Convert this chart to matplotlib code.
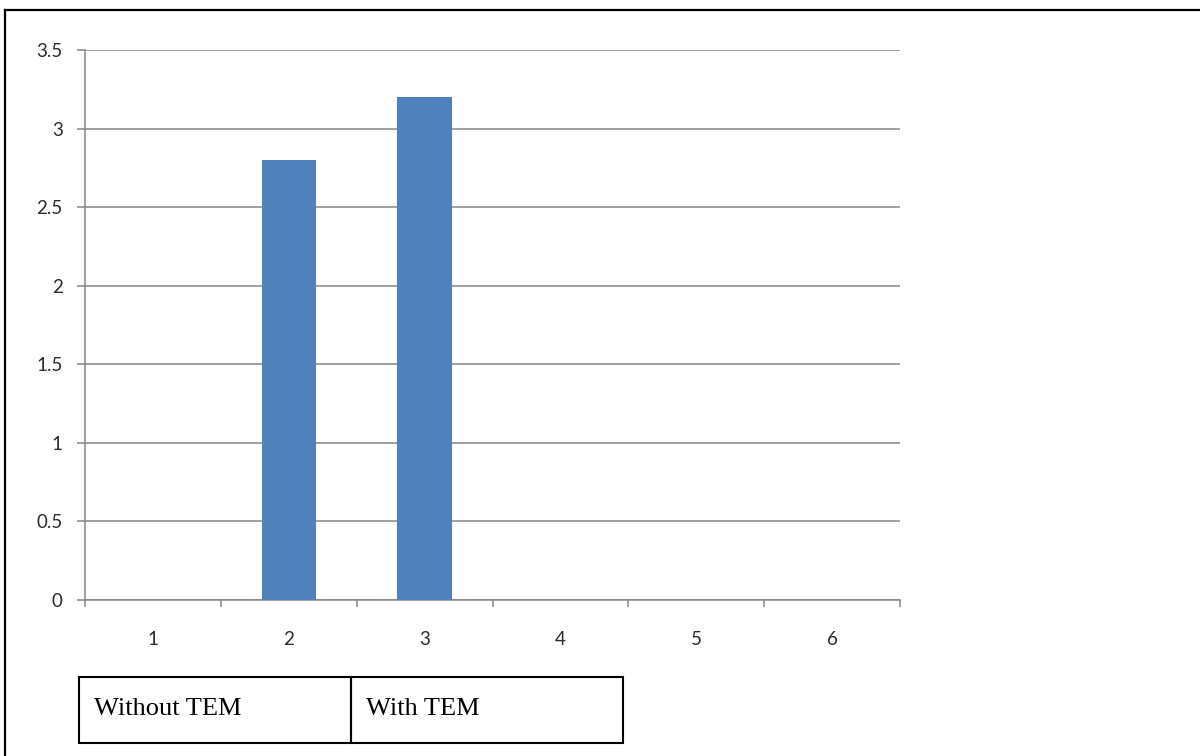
import matplotlib

matplotlib.use("Agg")
import matplotlib.pyplot as plt
import numpy as np
from matplotlib.lines import Line2D
from matplotlib.patches import Rectangle
from matplotlib.ticker import FixedLocator, FuncFormatter

categories = ["1", "2", "3", "4", "5", "6"]
values = [0, 2.8, 3.2, 0, 0, 0]
y_ticks = [0, 0.5, 1, 1.5, 2, 2.5, 3, 3.5]
table_labels = ["Without TEM", "With TEM"]

BAR_COLOR = "#4F81BD"
GRID_COLOR = "#868686"
LABEL_COLOR = "#2b2b2b"
W, H = 1200, 756


def fx(px):
    return px / W


def fy(py):
    return 1 - py / H


fig = plt.figure(figsize=(12, 7.56), dpi=100)
ax = fig.add_axes([fx(85), fy(600), fx(900) - fx(85), fy(50) - fy(600)])

x = np.arange(1, len(categories) + 1)
ax.bar(x, values, width=0.4, color=BAR_COLOR, linewidth=0, zorder=3)

ax.set_xlim(0.5, len(categories) + 0.5)
ax.set_ylim(0, 3.5)

# y axis: gray gridlines, outward ticks
ax.set_yticks(y_ticks)
ax.yaxis.set_major_formatter(FuncFormatter(lambda v, _: f"{v:g}"))
ax.grid(axis="y", color=GRID_COLOR, linewidth=1.1, zorder=0)
ax.tick_params(axis="y", direction="out", length=6, width=1.1,
               color=GRID_COLOR, pad=10, labelsize=13.5, labelcolor=LABEL_COLOR)

# x axis: ticks between categories, labels centred on categories
ax.xaxis.set_major_locator(FixedLocator(np.arange(0.5, len(categories) + 1, 1)))
ax.xaxis.set_major_formatter(FuncFormatter(lambda v, _: ""))
ax.xaxis.set_minor_locator(FixedLocator(x))
ax.set_xticklabels(categories, minor=True)
ax.tick_params(axis="x", which="major", direction="out", length=5, width=1.1,
               color=GRID_COLOR)
ax.tick_params(axis="x", which="minor", length=0, pad=22, labelsize=13.5,
               labelcolor=LABEL_COLOR)

for side in ["top", "right"]:
    ax.spines[side].set_visible(False)
for side in ["left", "bottom"]:
    ax.spines[side].set_color(GRID_COLOR)
    ax.spines[side].set_linewidth(1.1)

for lbl in ax.get_xticklabels(minor=True) + ax.get_yticklabels():
    lbl.set_family(["Lato", "DejaVu Sans"])

# outer frame (top and left edges)
fig.add_artist(Line2D([fx(4.5), 1], [fy(10), fy(10)], color="black", linewidth=1.6))
fig.add_artist(Line2D([fx(4.5), fx(4.5)], [0, fy(10)], color="black", linewidth=1.6))

# legend table below the plot
cell_edges = [79, 351, 623]
top, bottom = 677, 743
for i, label in enumerate(table_labels):
    left, right = cell_edges[i], cell_edges[i + 1]
    fig.add_artist(Rectangle((fx(left), fy(bottom)), fx(right) - fx(left),
                             fy(top) - fy(bottom), fill=False,
                             edgecolor="black", linewidth=1.5))
    fig.text(fx(left + 15), fy((top + bottom) / 2 - 1), label,
             family=["Liberation Serif", "DejaVu Serif"], fontsize=19,
             va="center", ha="left", color="black")

fig.savefig("out.png", dpi=100)
